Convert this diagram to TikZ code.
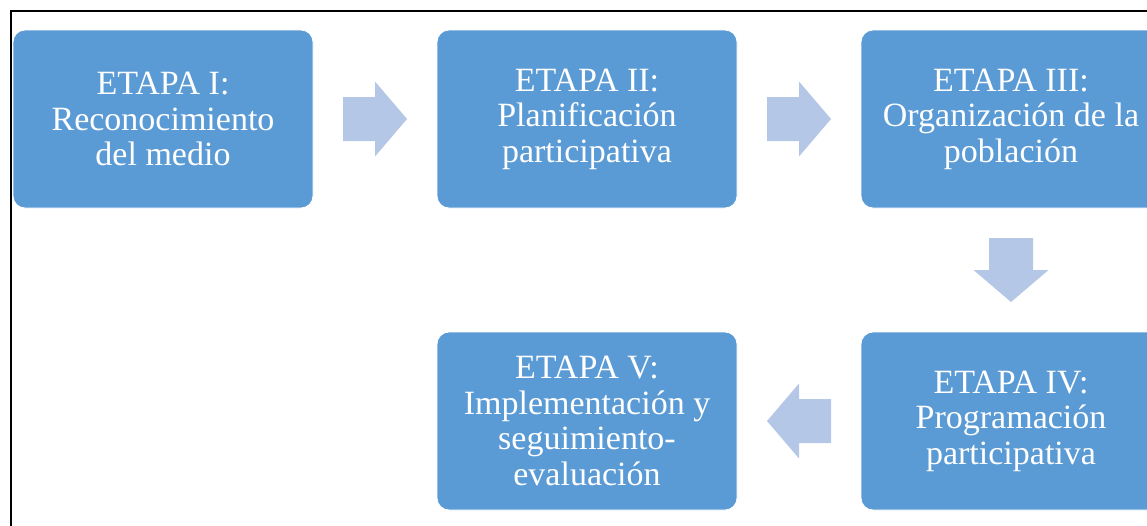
\documentclass[tikz,border=0pt]{standalone}
\usepackage{fontspec}
\setmainfont{Liberation Serif}
\usetikzlibrary{calc}
\definecolor{azulcaja}{HTML}{5B9BD5}
\definecolor{azulflecha}{HTML}{B4C7E7}
\tikzset{
	etapa/.style={rectangle, rounded corners=12pt, fill=azulcaja, draw=white, line width=0.8pt,
		minimum width=300pt, minimum height=178pt, inner sep=0pt, align=center,
		text=white, font=\fontsize{34}{35.5}\selectfont},
	flecha/.style={fill=azulflecha}
}
% flecha de bloque: centro, angulo
\newcommand{\flechabloque}[2]{%
	\fill[flecha, shift={(#1)}, rotate=#2] (-32,-22) -- (0,-22) -- (0,-37.5) -- (32,0)
		-- (0,37.5) -- (0,22) -- (-32,22) -- cycle;}
\begin{document}
\begin{tikzpicture}[x=1pt,y=-1pt]
		\useasboundingbox (0,0) rectangle (1147,525);
		\clip (0,0) rectangle (1147,525);
		
		%marco
		\draw[line width=1.5pt] (11,545) -- (11,11) -- (1165,11);
		
		%etapas
		\node[etapa] (e1) at (163,119) {ETAPA I:\\Reconocimiento\\del medio};
		\node[etapa] (e2) at (587,119) {ETAPA II:\\Planificación\\participativa};
		\node[etapa] (e3) at (1011,119) {ETAPA III:\\Organización de la\\población};
		\node[etapa] (e4) at (1011,421) {ETAPA IV:\\Programación\\participativa};
		\node[etapa] (e5) at (587,421) {ETAPA V:\\Implementación y\\seguimiento-\\evaluación};
		
		%flechas
		\flechabloque{$(e1.east)!0.5!(e2.west)$}{0}
		\flechabloque{$(e2.east)!0.5!(e3.west)$}{0}
		\flechabloque{$(e3.south)!0.5!(e4.north)$}{-90}
		\flechabloque{$(e4.west)!0.5!(e5.east)$}{180}
\end{tikzpicture}
\end{document}
